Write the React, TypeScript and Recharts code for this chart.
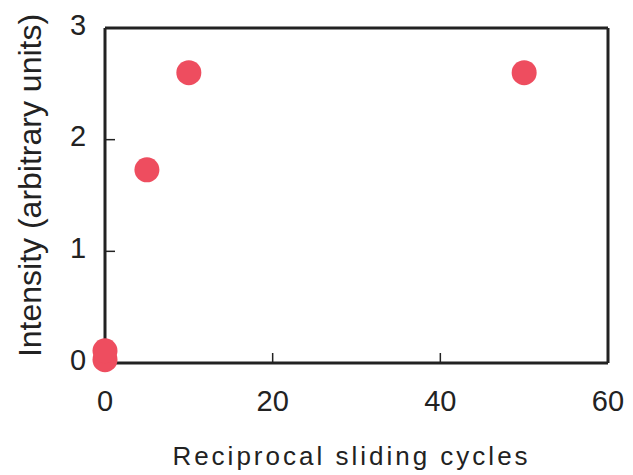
import React from 'react';
import { ScatterChart, Scatter, XAxis, YAxis } from 'recharts';

// values
const cycles = [0, 0, 5, 10, 50];
const intensity = [0.03, 0.11, 1.73, 2.6, 2.6];
const xTicks = [0, 20, 40, 60];
const yTicks = [0, 1, 2, 3];

const xTitle = 'Reciprocal sliding cycles';
const yTitle = 'Intensity (arbitrary units)';

const points = cycles.map((c, i) => ({ cycles: c, intensity: intensity[i] }));

const INK = '#222';
const DOT = '#ee4d5f';
const FONT = "'Liberation Sans', Arial, sans-serif";

const XTick = ({ x, y, payload }: any) => (
  <text x={x} y={y} dy="0.71em" textAnchor="middle" fill={INK} fontSize={29} fontFamily={FONT}>
    {payload.value}
  </text>
);

const YTick = ({ x, y, payload }: any) => (
  <text x={x} y={y - 3.5} dy="0.355em" textAnchor="middle" fill={INK} fontSize={29} fontFamily={FONT}>
    {payload.value}
  </text>
);

const XTitle = ({ viewBox }: any) => (
  <text
    x={viewBox.x + viewBox.width / 2 - 5}
    y={viewBox.y + viewBox.height - 10}
    textAnchor="middle"
    fill={INK}
    fontSize={26}
    letterSpacing={3}
    fontFamily={FONT}
  >
    {xTitle}
  </text>
);

const YTitle = ({ viewBox }: any) => {
  const cx = viewBox.x + 41;
  const cy = viewBox.y + viewBox.height / 2 - 10;
  return (
    <text
      x={cx}
      y={cy}
      transform={`rotate(-90 ${cx} ${cy})`}
      textAnchor="middle"
      fill={INK}
      fontSize={32}
      fontFamily={FONT}
    >
      {yTitle}
    </text>
  );
};

const Dot = ({ cx, cy }: any) => <circle cx={cx} cy={cy} r={12.5} fill={DOT} />;

export default function App() {
  return (
    <div style={{ position: 'absolute', left: 0, top: 0, background: '#fff' }}>
      <ScatterChart width={633} height={475} margin={{ top: 27, right: 24, left: 0, bottom: 0 }}>
        <XAxis
          xAxisId="b"
          type="number"
          dataKey="cycles"
          domain={[0, 60]}
          ticks={xTicks}
          height={112}
          axisLine={{ stroke: INK, strokeWidth: 3 }}
          tickLine={{ stroke: INK, strokeWidth: 1.5 }}
          tickSize={-10}
          tickMargin={37}
          tick={<XTick />}
          label={<XTitle />}
        />
        <XAxis
          xAxisId="t"
          orientation="top"
          type="number"
          dataKey="cycles"
          domain={[0, 60]}
          height={1}
          tick={false}
          tickLine={false}
          axisLine={{ stroke: INK, strokeWidth: 3 }}
        />
        <YAxis
          yAxisId="l"
          type="number"
          dataKey="intensity"
          domain={[0, 3]}
          ticks={yTicks}
          width={105}
          axisLine={{ stroke: INK, strokeWidth: 3 }}
          tickLine={{ stroke: INK, strokeWidth: 1.5 }}
          tickSize={-10}
          tickMargin={37}
          tick={<YTick />}
          label={<YTitle />}
        />
        <YAxis
          yAxisId="r"
          orientation="right"
          type="number"
          dataKey="intensity"
          domain={[0, 3]}
          width={1}
          tick={false}
          tickLine={false}
          axisLine={{ stroke: INK, strokeWidth: 3 }}
        />
        <Scatter
          xAxisId="b"
          yAxisId="l"
          data={points}
          fill={DOT}
          shape={<Dot />}
          isAnimationActive={false}
        />
        {/* invisible twin so the frame axes get a domain */}
        <Scatter
          xAxisId="t"
          yAxisId="r"
          data={points}
          shape={() => <g />}
          legendType="none"
          isAnimationActive={false}
        />
      </ScatterChart>
    </div>
  );
}
